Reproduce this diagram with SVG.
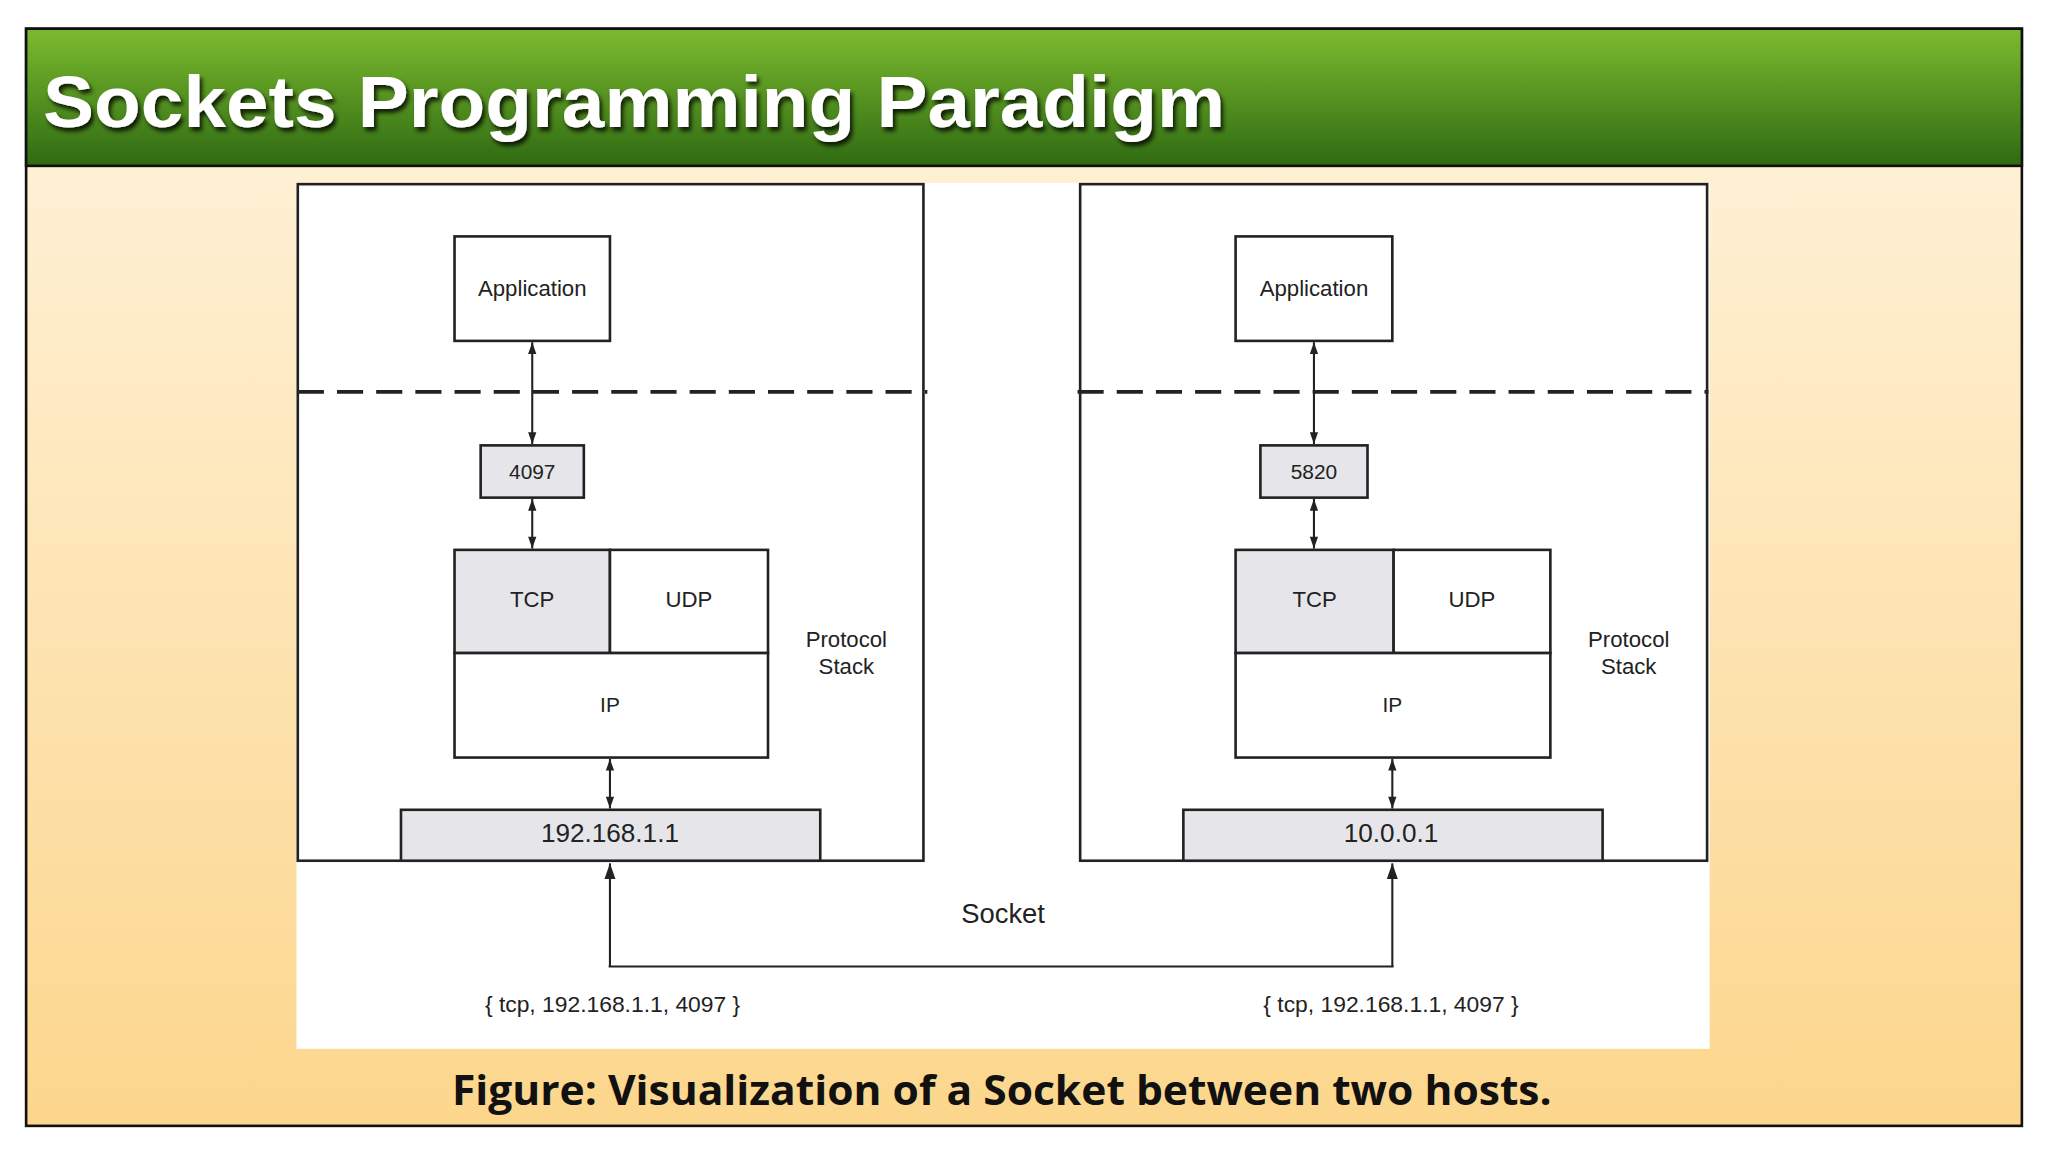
<svg xmlns="http://www.w3.org/2000/svg" width="2048" height="1152" viewBox="0 0 2048 1152">
<defs>
<linearGradient id="bg" x1="0" y1="0" x2="0" y2="1"><stop offset="0" stop-color="#fff4df"/><stop offset="1" stop-color="#fcd68c"/></linearGradient>
<linearGradient id="hd" x1="0" y1="0" x2="0" y2="1"><stop offset="0" stop-color="#7cbb2f"/><stop offset="1" stop-color="#2f6a12"/></linearGradient>
<marker id="ar" viewBox="0 0 10 10" refX="10" refY="5" markerWidth="10" markerHeight="9" orient="auto-start-reverse" markerUnits="userSpaceOnUse"><path d="M0,1.5 L10,5 L0,8.5 z" fill="#222"/></marker>
<marker id="ab" viewBox="0 0 10 10" refX="10" refY="5" markerWidth="14" markerHeight="12" orient="auto" markerUnits="userSpaceOnUse"><path d="M0,1.5 L10,5 L0,8.5 z" fill="#222"/></marker>
<filter id="sh"><feDropShadow dx="2" dy="3" stdDeviation="1.5" flood-color="#000" flood-opacity="0.8"/></filter>
</defs>
<style>
.b{fill:#fff;stroke:#222;stroke-width:2}
.g{fill:#e6e6ea;stroke:#222;stroke-width:2}
.t{font-family:"Liberation Sans",Arial,sans-serif;fill:#222;text-anchor:middle}
.c{stroke:#222;stroke-width:1.6;fill:none}
</style>
<g transform="scale(1.30612)">
<rect x="20" y="22" width="1528" height="840" fill="url(#bg)" stroke="#111" stroke-width="2"/>
<g id="header">
<rect x="20" y="22" width="1528" height="105" fill="url(#hd)" stroke="#111" stroke-width="2"/>
<text x="33" y="97" font-family="Liberation Sans,Arial,sans-serif" font-weight="bold" font-size="55" fill="#fff" filter="url(#sh)" textLength="905" lengthAdjust="spacingAndGlyphs">Sockets Programming Paradigm</text>
</g>
<rect x="227" y="140" width="1082" height="663" fill="#fff"/>
<g id="hostA">
<rect class="b" x="228" y="141" width="479" height="518"/>
<line x1="228" y1="300" x2="710" y2="300" stroke="#222" stroke-width="3" stroke-dasharray="20,10"/>
<text class="t" x="648" y="495" font-size="17">Protocol</text>
<text class="t" x="648" y="516" font-size="17">Stack</text>
</g>
<g id="appA"><rect class="b" x="348" y="181" width="119" height="80"/><text class="t" x="407.5" y="227" font-size="17">Application</text></g>
<g id="portA"><rect class="g" x="368" y="341" width="79" height="40"/><text class="t" x="407.5" y="367" font-size="16">4097</text></g>
<g id="tcpA"><rect class="g" x="348" y="421" width="119" height="79"/><text class="t" x="407.5" y="465" font-size="17">TCP</text></g>
<g id="udpA"><rect class="b" x="467" y="421" width="121" height="79"/><text class="t" x="527.5" y="465" font-size="17">UDP</text></g>
<g id="ipA"><rect class="b" x="348" y="500" width="240" height="80"/><text class="t" x="467" y="545" font-size="16">IP</text></g>
<g id="addrA"><rect class="g" x="307" y="620" width="321" height="39"/><text class="t" x="467" y="645" font-size="20">192.168.1.1</text></g>
<g id="hostB">
<rect class="b" x="827" y="141" width="480" height="518"/>
<line x1="825" y1="300" x2="1308" y2="300" stroke="#222" stroke-width="3" stroke-dasharray="20,10"/>
<text class="t" x="1247" y="495" font-size="17">Protocol</text>
<text class="t" x="1247" y="516" font-size="17">Stack</text>
</g>
<g id="appB"><rect class="b" x="946" y="181" width="120" height="80"/><text class="t" x="1006" y="227" font-size="17">Application</text></g>
<g id="portB"><rect class="g" x="965" y="341" width="82" height="40"/><text class="t" x="1006" y="367" font-size="16">5820</text></g>
<g id="tcpB"><rect class="g" x="946" y="421" width="121" height="79"/><text class="t" x="1006.5" y="465" font-size="17">TCP</text></g>
<g id="udpB"><rect class="b" x="1067" y="421" width="120" height="79"/><text class="t" x="1127" y="465" font-size="17">UDP</text></g>
<g id="ipB"><rect class="b" x="946" y="500" width="241" height="80"/><text class="t" x="1066" y="545" font-size="16">IP</text></g>
<g id="addrB"><rect class="g" x="906" y="620" width="321" height="39"/><text class="t" x="1065" y="645" font-size="20">10.0.0.1</text></g>
<g id="connectors">
<line class="c" x1="407.5" y1="262" x2="407.5" y2="340" marker-start="url(#ar)" marker-end="url(#ar)"/>
<line class="c" x1="407.5" y1="382" x2="407.5" y2="420" marker-start="url(#ar)" marker-end="url(#ar)"/>
<line class="c" x1="467" y1="581" x2="467" y2="619" marker-start="url(#ar)" marker-end="url(#ar)"/>
<line class="c" x1="1006" y1="262" x2="1006" y2="340" marker-start="url(#ar)" marker-end="url(#ar)"/>
<line class="c" x1="1006" y1="382" x2="1006" y2="420" marker-start="url(#ar)" marker-end="url(#ar)"/>
<line class="c" x1="1066" y1="581" x2="1066" y2="619" marker-start="url(#ar)" marker-end="url(#ar)"/>
<path class="c" d="M467,740 V661" stroke-width="2" marker-end="url(#ab)"/>
<path class="c" d="M1066,740 V661" stroke-width="2" marker-end="url(#ab)"/>
<path class="c" d="M466,740 H1067" stroke-width="2"/>
</g>
<text class="t" x="768" y="707" font-size="21">Socket</text>
<text class="t" x="469" y="775" font-size="17.5">{ tcp, 192.168.1.1, 4097 }</text>
<text class="t" x="1065" y="775" font-size="17.5">{ tcp, 192.168.1.1, 4097 }</text>
<text x="767" y="846" text-anchor="middle" font-family="Open Sans,Liberation Sans,sans-serif" font-weight="bold" font-size="32" fill="#111" textLength="842" lengthAdjust="spacingAndGlyphs">Figure: Visualization of a Socket between two hosts.</text>
</g>
</svg>
